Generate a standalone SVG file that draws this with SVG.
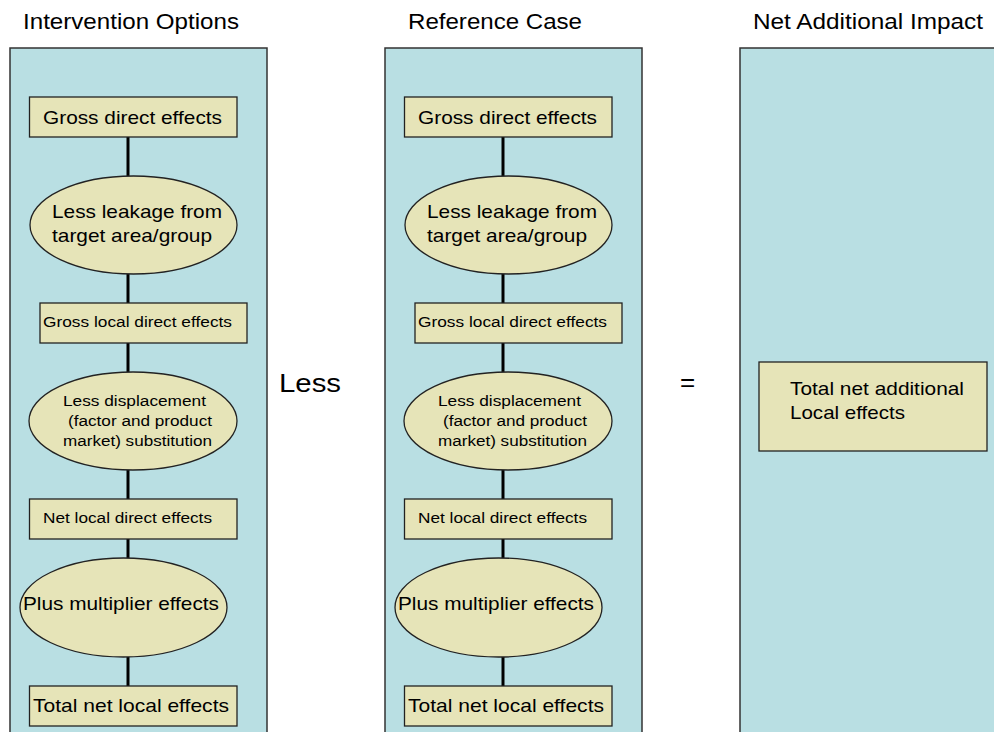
<svg xmlns="http://www.w3.org/2000/svg" width="994" height="732" viewBox="0 0 994 732">
<style>
text{font-family:"Liberation Sans",Arial,sans-serif;fill:#000}
.panel{fill:#b9dfe3;stroke:#333;stroke-width:1.5}
.node{fill:#e6e4b8;stroke:#222;stroke-width:1.3}
.conn{stroke:#000;stroke-width:3;fill:none}
.title{font-size:22px}
.big{font-size:19px}
.small{font-size:15.5px}
.op{font-size:26px}
</style>
<rect width="994" height="732" fill="#fff"/>
<g id="titles">
<text class="title" x="23" y="29" textLength="216" lengthAdjust="spacingAndGlyphs">Intervention Options</text>
<text class="title" x="408" y="29" textLength="174" lengthAdjust="spacingAndGlyphs">Reference Case</text>
<text class="title" x="753" y="29" textLength="230" lengthAdjust="spacingAndGlyphs">Net Additional Impact</text>
</g>
<g id="panels">
<rect id="panel-intervention" class="panel" x="10" y="48" width="257" height="700"/>
<rect id="panel-reference" class="panel" x="385" y="48" width="257" height="700"/>
<rect id="panel-net" class="panel" x="740" y="48" width="270" height="700"/>
</g>
<g id="connectors">
<line class="conn" x1="128" y1="137" x2="128" y2="176"/>
<line class="conn" x1="128" y1="274" x2="128" y2="303"/>
<line class="conn" x1="128" y1="343" x2="128" y2="372"/>
<line class="conn" x1="128" y1="470" x2="128" y2="499"/>
<line class="conn" x1="128" y1="539" x2="128" y2="558"/>
<line class="conn" x1="128" y1="657" x2="128" y2="686"/>
<line class="conn" x1="503" y1="137" x2="503" y2="176"/>
<line class="conn" x1="503" y1="274" x2="503" y2="303"/>
<line class="conn" x1="503" y1="343" x2="503" y2="372"/>
<line class="conn" x1="503" y1="470" x2="503" y2="499"/>
<line class="conn" x1="503" y1="539" x2="503" y2="558"/>
<line class="conn" x1="503" y1="657" x2="503" y2="686"/>
</g>
<g id="io-gross-direct">
<rect class="node" x="29.5" y="97" width="207.5" height="40"/>
<text class="big" x="43" y="124" textLength="179" lengthAdjust="spacingAndGlyphs">Gross direct effects</text>
</g>
<g id="io-leakage">
<ellipse class="node" cx="133.5" cy="225" rx="103.5" ry="49"/>
<text class="big" x="52" y="218" textLength="170" lengthAdjust="spacingAndGlyphs">Less leakage from</text>
<text class="big" x="52" y="242" textLength="160" lengthAdjust="spacingAndGlyphs">target area/group</text>
</g>
<g id="io-gross-local">
<rect class="node" x="40" y="303" width="207" height="40"/>
<text class="small" x="43" y="327" textLength="189" lengthAdjust="spacingAndGlyphs">Gross local direct effects</text>
</g>
<g id="io-displacement">
<ellipse class="node" cx="133" cy="421" rx="104" ry="49"/>
<text class="small" x="63" y="405.5" textLength="143" lengthAdjust="spacingAndGlyphs">Less displacement</text>
<text class="small" x="68" y="426" textLength="144" lengthAdjust="spacingAndGlyphs">(factor and product</text>
<text class="small" x="63" y="446" textLength="149" lengthAdjust="spacingAndGlyphs">market) substitution</text>
</g>
<g id="io-net-local">
<rect class="node" x="29.5" y="499" width="207.5" height="40"/>
<text class="small" x="43" y="523" textLength="169" lengthAdjust="spacingAndGlyphs">Net local direct effects</text>
</g>
<g id="io-multiplier">
<ellipse class="node" cx="123.5" cy="607.5" rx="103.5" ry="49.5"/>
<text class="big" x="23" y="610" textLength="196" lengthAdjust="spacingAndGlyphs">Plus multiplier effects</text>
</g>
<g id="io-total">
<rect class="node" x="29.5" y="686" width="207.5" height="40"/>
<text class="big" x="33" y="712" textLength="196" lengthAdjust="spacingAndGlyphs">Total net local effects</text>
</g>
<g id="rc-gross-direct">
<rect class="node" x="404.5" y="97" width="207.5" height="40"/>
<text class="big" x="418" y="124" textLength="179" lengthAdjust="spacingAndGlyphs">Gross direct effects</text>
</g>
<g id="rc-leakage">
<ellipse class="node" cx="508.5" cy="225" rx="103.5" ry="49"/>
<text class="big" x="427" y="218" textLength="170" lengthAdjust="spacingAndGlyphs">Less leakage from</text>
<text class="big" x="427" y="242" textLength="160" lengthAdjust="spacingAndGlyphs">target area/group</text>
</g>
<g id="rc-gross-local">
<rect class="node" x="415" y="303" width="207" height="40"/>
<text class="small" x="418" y="327" textLength="189" lengthAdjust="spacingAndGlyphs">Gross local direct effects</text>
</g>
<g id="rc-displacement">
<ellipse class="node" cx="508" cy="421" rx="104" ry="49"/>
<text class="small" x="438" y="405.5" textLength="143" lengthAdjust="spacingAndGlyphs">Less displacement</text>
<text class="small" x="443" y="426" textLength="144" lengthAdjust="spacingAndGlyphs">(factor and product</text>
<text class="small" x="438" y="446" textLength="149" lengthAdjust="spacingAndGlyphs">market) substitution</text>
</g>
<g id="rc-net-local">
<rect class="node" x="404.5" y="499" width="207.5" height="40"/>
<text class="small" x="418" y="523" textLength="169" lengthAdjust="spacingAndGlyphs">Net local direct effects</text>
</g>
<g id="rc-multiplier">
<ellipse class="node" cx="498.5" cy="607.5" rx="103.5" ry="49.5"/>
<text class="big" x="398" y="610" textLength="196" lengthAdjust="spacingAndGlyphs">Plus multiplier effects</text>
</g>
<g id="rc-total">
<rect class="node" x="404.5" y="686" width="207.5" height="40"/>
<text class="big" x="408" y="712" textLength="196" lengthAdjust="spacingAndGlyphs">Total net local effects</text>
</g>
<g id="net-total">
<rect class="node" x="759" y="362" width="228" height="89"/>
<text class="big" x="790" y="395" textLength="174" lengthAdjust="spacingAndGlyphs">Total net additional</text>
<text class="big" x="790" y="419" textLength="115" lengthAdjust="spacingAndGlyphs">Local effects</text>
</g>
<g id="operators">
<text class="op" x="279" y="392" textLength="62" lengthAdjust="spacingAndGlyphs">Less</text>
<text class="op" x="680" y="391">=</text>
</g>
</svg>
